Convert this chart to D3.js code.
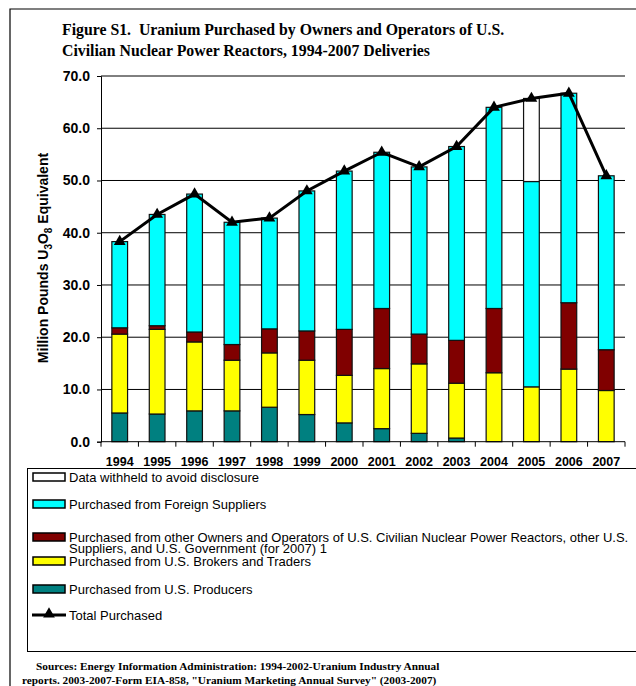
<!DOCTYPE html>
<html><head><meta charset="utf-8">
<script src="https://cdn.jsdelivr.net/npm/d3@7"></script>
<style>body{margin:0;background:#fff} svg{display:block}</style>
</head><body>
<svg id="c" width="636" height="686"></svg>
<script>
const years = ["1994","1995","1996","1997","1998","1999","2000","2001","2002","2003","2004","2005","2006","2007"];
const producers   = [5.5, 5.3, 5.9, 5.9, 6.6, 5.2, 3.6, 2.5, 1.6, 0.7, 0, 0, 0, 0];
const brokers     = [15.1, 16.2, 13.2, 9.7, 10.4, 10.4, 9.1, 11.5, 13.3, 10.5, 13.2, 10.5, 13.9, 9.8];
const otherOwners = [1.2, 0.7, 1.9, 3.0, 4.6, 5.6, 8.8, 11.5, 5.7, 8.2, 12.3, 0, 12.7, 7.8];
const foreign     = [16.5, 21.3, 26.4, 23.4, 21.2, 26.8, 30.3, 29.9, 32.0, 37.1, 38.5, 39.3, 40.1, 33.3];
const withheld    = [0, 0, 0, 0, 0, 0, 0, 0, 0, 0, 0, 15.9, 0, 0];
const totals      = [38.3, 43.5, 47.4, 42.0, 42.8, 48.0, 51.8, 55.4, 52.6, 56.5, 64.0, 65.7, 66.7, 50.9];
const yTicks = [0, 10, 20, 30, 40, 50, 60, 70];

const seriesKeys = ["producers","brokers","otherOwners","foreign","withheld"];
const seriesColors = {producers:"#008080", brokers:"#FFFF00", otherOwners:"#800000", foreign:"#00FFFF", withheld:"#FFFFFF"};
const legendItems = [
  {key:"withheld", lines:["Data withheld to avoid disclosure"]},
  {key:"foreign", lines:["Purchased from Foreign Suppliers"]},
  {key:"otherOwners", lines:["Purchased from other Owners and Operators of U.S. Civilian Nuclear Power Reactors, other U.S.","Suppliers, and U.S. Government (for 2007) 1"]},
  {key:"brokers", lines:["Purchased from U.S. Brokers and Traders"]},
  {key:"producers", lines:["Purchased from U.S. Producers"]},
  {key:"total", lines:["Total Purchased"]}
];

const table = years.map((yr,i)=>({year:yr, producers:producers[i], brokers:brokers[i], otherOwners:otherOwners[i], foreign:foreign[i], withheld:withheld[i], total:totals[i]}));

const svg = d3.select("#c");
const SANS = "'Liberation Sans', Arial, sans-serif";
const SERIF = "'Liberation Serif', 'Times New Roman', serif";

// outer frame
svg.append("path").attr("d","M10,686 L10,9 L636,9").attr("fill","none").attr("stroke","#000").attr("stroke-width",1.2);

// title
const title = svg.append("g").attr("font-family",SERIF).attr("font-weight","bold").attr("font-size",15.8);
title.append("text").attr("x",62).attr("y",35).attr("xml:space","preserve").text("Figure S1.  Uranium Purchased by Owners and Operators of U.S.");
title.append("text").attr("x",62).attr("y",56).text("Civilian Nuclear Power Reactors, 1994-2007 Deliveries");

const x0 = 101, x1 = 625, yTop = 76, yBot = 441.7;
const x = d3.scaleBand().domain(years).range([x0,x1]).padding(0);
const y = d3.scaleLinear().domain([0,70]).range([yBot,yTop]);
const barW = x.bandwidth()*0.42;

// gridlines
svg.append("g").selectAll("line").data(yTicks.filter(d=>d>0)).join("line")
  .attr("x1",x0).attr("x2",x1).attr("y1",d=>y(d)).attr("y2",d=>y(d))
  .attr("stroke","#000").attr("stroke-width",1);

// y axis
const yAxis = svg.append("g").attr("transform",`translate(${x0},0)`)
  .call(d3.axisLeft(y).tickValues(yTicks).tickFormat(d3.format(".1f")).tickSize(4).tickPadding(7));
yAxis.select(".domain").attr("stroke","#000").attr("stroke-width",1);
yAxis.selectAll("text").attr("font-family",SANS).attr("font-weight","bold").attr("font-size",14).attr("fill","#000");

// bars
const stack = d3.stack().keys(seriesKeys)(table);
svg.append("g").selectAll("g").data(stack).join("g")
  .attr("fill",d=>seriesColors[d.key])
  .selectAll("rect").data(d=>d.filter(s=>s[1]-s[0]>0)).join("rect")
  .attr("x",d=>x(d.data.year)+x.bandwidth()/2-barW/2)
  .attr("width",barW)
  .attr("y",d=>y(d[1]))
  .attr("height",d=>y(d[0])-y(d[1]))
  .attr("stroke","#111").attr("stroke-width",1.2);

// x axis
const xAxis = svg.append("g").attr("transform",`translate(0,${yBot})`);
xAxis.append("line").attr("x1",x0).attr("x2",x1).attr("stroke","#000").attr("stroke-width",1);
const bounds = years.map(d=>x(d)).concat([x1]);
xAxis.selectAll("line.tk").data(bounds).join("line").attr("class","tk")
  .attr("x1",d=>d).attr("x2",d=>d).attr("y1",0).attr("y2",5).attr("stroke","#000");
xAxis.selectAll("text").data(years).join("text")
  .attr("x",d=>x(d)+x.bandwidth()/2).attr("y",24.5)
  .attr("text-anchor","middle").attr("font-family",SANS).attr("font-weight","bold").attr("font-size",12.5)
  .text(d=>d);

// total line
const line = d3.line().x(d=>x(d.year)+x.bandwidth()/2).y(d=>y(d.total));
svg.append("path").datum(table).attr("d",line).attr("fill","none").attr("stroke","#000").attr("stroke-width",3);
const tri = d3.symbol(d3.symbolTriangle, 60);
svg.append("g").selectAll("path").data(table).join("path")
  .attr("d",tri).attr("transform",d=>`translate(${x(d.year)+x.bandwidth()/2},${y(d.total)})`).attr("fill","#000");

// y title
svg.append("text").attr("transform","translate(48,258) rotate(-90)")
  .attr("text-anchor","middle").attr("font-family",SANS).attr("font-weight","bold").attr("font-size",14)
  .call(t=>{
    t.append("tspan").text("Million Pounds U");
    t.append("tspan").attr("font-size",10).attr("dy",4).text("3");
    t.append("tspan").attr("dy",-4).text("O");
    t.append("tspan").attr("font-size",10).attr("dy",4).text("8");
    t.append("tspan").attr("dy",-4).text(" Equivalent");
  });

// legend
const lg = svg.append("g");
lg.append("rect").attr("x",27.5).attr("y",468.5).attr("width",620).attr("height",183).attr("fill","none").attr("stroke","#000").attr("stroke-width",1);
const rowY = [477, 504, 537, 561, 589, 615];
legendItems.forEach((it,i)=>{
  const cy = rowY[i];
  if(it.key==="total"){
    lg.append("line").attr("x1",32).attr("x2",66).attr("y1",cy).attr("y2",cy).attr("stroke","#000").attr("stroke-width",3);
    lg.append("path").attr("d",tri).attr("transform",`translate(49,${cy-1})`).attr("fill","#000");
  } else {
    lg.append("rect").attr("x",33).attr("y",cy-4).attr("width",32).attr("height",8)
      .attr("fill",seriesColors[it.key]).attr("stroke","#000").attr("stroke-width",1.5);
  }
  it.lines.forEach((ln,j)=>{
    lg.append("text").attr("x",69).attr("y",cy+4.5+j*11.5).attr("font-family",SANS).attr("font-size",13).text(ln);
  });
});

// sources
const src = svg.append("g").attr("font-family",SERIF).attr("font-weight","bold").attr("font-size",11.3);
src.append("text").attr("x",36).attr("y",670).text("Sources: Energy Information Administration: 1994-2002-Uranium Industry Annual");
src.append("text").attr("x",22).attr("y",684).text("reports. 2003-2007-Form EIA-858, \"Uranium Marketing Annual Survey\" (2003-2007)");
</script>
</body></html>
